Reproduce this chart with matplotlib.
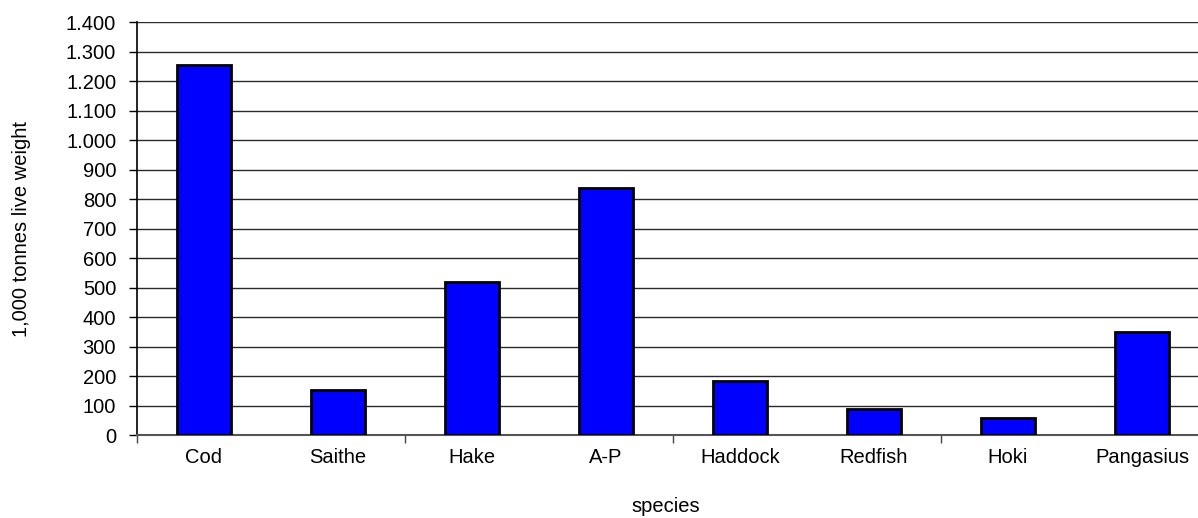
import matplotlib
matplotlib.use("Agg")
import matplotlib.pyplot as plt
from matplotlib.ticker import FuncFormatter

species = ["Cod", "Saithe", "Hake", "A-P", "Haddock", "Redfish", "Hoki", "Pangasius"]
volume = [1255, 152, 520, 840, 185, 90, 59, 350]  # 1,000 tonnes live weight

plt.rcParams["font.family"] = ["Liberation Sans", "DejaVu Sans"]

fig = plt.figure(figsize=(11.98, 5.18), dpi=100)
ax = fig.add_axes([137 / 1198, 82.7 / 518, 1072 / 1198, 413 / 518])

x = range(len(species))
ax.bar(x, volume, width=0.4, color="#0000ff", edgecolor="black", linewidth=2, zorder=3)

ax.set_xlim(-0.5, len(species) - 0.5)
ax.set_ylim(0, 1400)
ax.set_yticks(range(0, 1401, 100))
# thousands separated with a dot
ax.yaxis.set_major_formatter(FuncFormatter(lambda v, p: f"{int(v):,}".replace(",", ".")))
ax.yaxis.grid(True, color="#2a2a2a", linewidth=1, zorder=0)

ax.set_xticks(list(x))
ax.set_xticklabels(species)
ax.set_xticks([-0.5, 1.5, 3.5, 5.5, 7.5], minor=True)
ax.tick_params(axis="x", which="major", length=0, pad=9, labelsize=14.5)
ax.tick_params(axis="x", which="minor", length=6, width=1, color="#444444")
ax.tick_params(axis="y", length=6, width=1, pad=9, labelsize=14.5)

for side in ["top", "right"]:
    ax.spines[side].set_visible(False)
ax.spines["left"].set_linewidth(1.2)
ax.spines["bottom"].set_color("#555555")
ax.spines["bottom"].set_linewidth(1.5)

ax.set_ylabel("1,000 tonnes live weight", fontsize=14.5)
ax.yaxis.set_label_coords(-106 / 1072, 0.5)
fig.text(666 / 1198, 1 - 507 / 518, "species", ha="center", va="center", fontsize=14.5)

fig.savefig("out.png", dpi=100)
